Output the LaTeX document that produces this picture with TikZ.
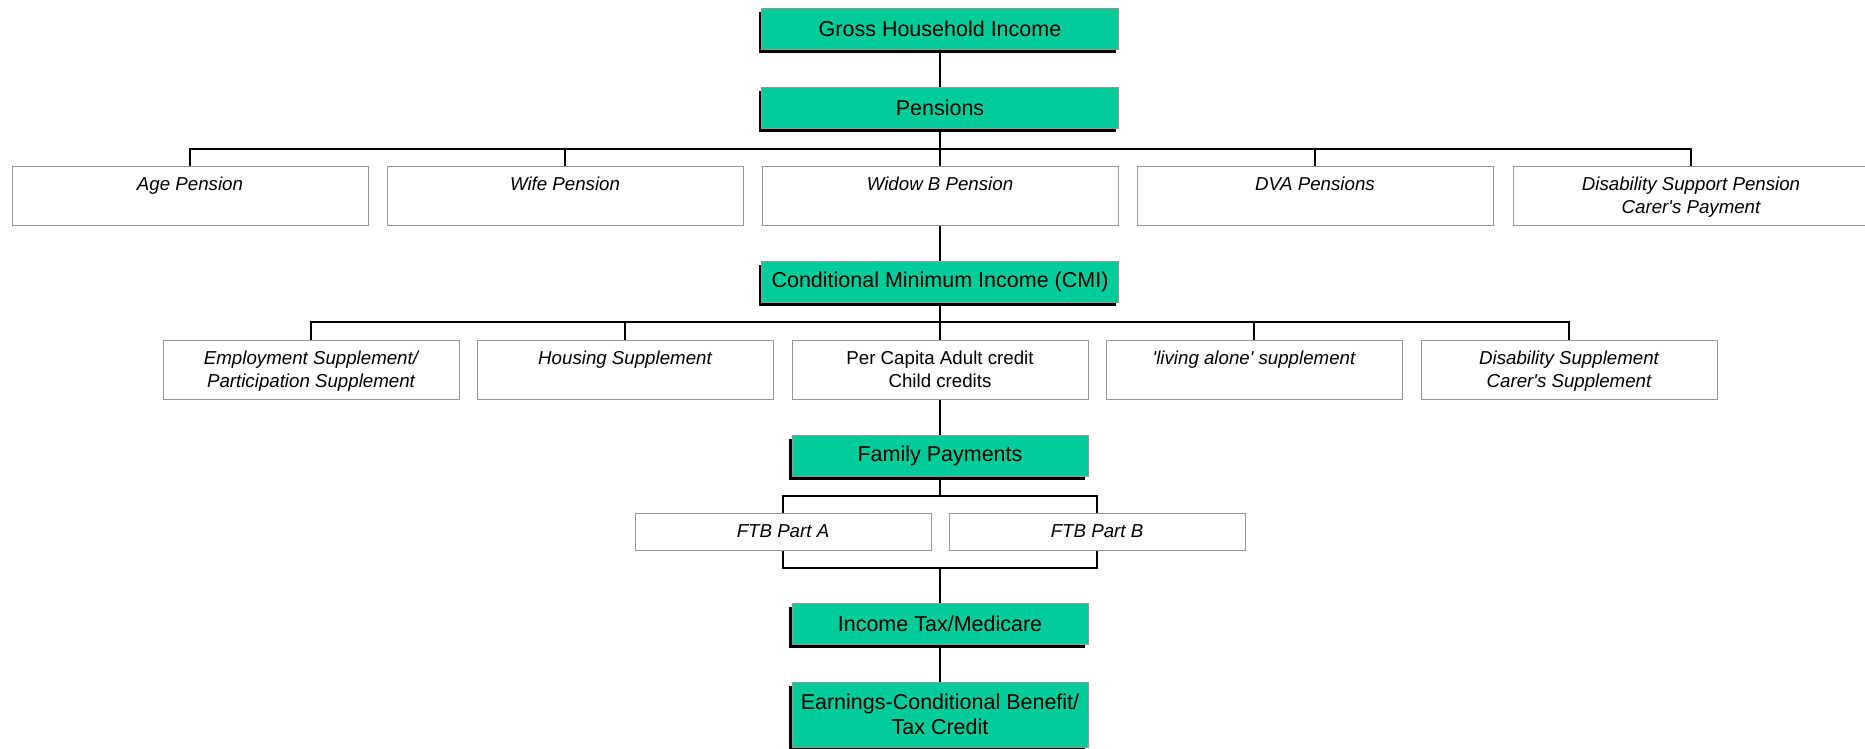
\documentclass[tikz,border=0pt]{standalone}
\usepackage{fontspec}
\setmainfont{Liberation Sans}
\usepackage{xcolor}
\usetikzlibrary{positioning, shadows}
\definecolor{stepgreen}{RGB}{0,204,153}
\definecolor{boxgray}{RGB}{150,150,150}
\newcommand{\sq}{\textquotesingle}

\begin{document}
\begin{tikzpicture}[
    x=1pt, y=-1pt,
    font=\fontsize{18.7}{22.5}\selectfont,
    stage/.style={draw=boxgray, line width=1pt, fill=stepgreen, rectangle, minimum width=296pt, minimum height=41pt, inner sep=0pt, align=center, font=\fontsize{21.5}{25}\selectfont, drop shadow={shadow xshift=-3pt, shadow yshift=-3.5pt, fill=black, opacity=1}},
    wstage/.style={stage, minimum width=357pt},
    item/.style={draw=boxgray, line width=1pt, fill=white, rectangle, minimum width=356pt, minimum height=59pt, inner sep=0pt, align=center, font=\fontsize{18.7}{23}\selectfont\itshape, text depth=0pt},
    sitem/.style={item, minimum width=296pt},
    ftb/.style={item, minimum width=296pt, minimum height=37pt},
    link/.style={line width=1.1pt, black}
]
\clip (0,0) rectangle (1865,748);
\fill[white] (0,0) rectangle (1865,748);

\node[wstage] (gross) at (940,28.5) {Gross Household Income};
\node[wstage] (pens) at (940,108) {Pensions};
\draw[link] (gross.south) -- (pens.north);

\node[item] (age) at (190,195.5) {Age Pension\\\strut};
\node[item] (wife) at (565,195.5) {Wife Pension\\\strut};
\node[item] (widow) at (940,195.5) {Widow B Pension\\\strut};
\node[item] (dva) at (1315,195.5) {DVA Pensions\\\strut};
\node[item] (dsp) at (1691,195.5) {Disability Support Pension\\Carer\sq s Payment};
\coordinate (pbus) at (940,149);
\draw[link] (pens.south) -- (pbus);
\foreach \n in {age,wife,widow,dva,dsp}
    \draw[link] (\n.north) |- (pbus);

\node[wstage] (cmi) at (940,282) {Conditional Minimum Income (CMI)};
\draw[link] (widow.south) -- (cmi.north);

\node[sitem] (emp) at (311,369.5) {Employment Supplement/\\Participation Supplement};
\node[sitem] (house) at (625,369.5) {Housing Supplement\\\strut};
\node[sitem, font=\fontsize{18.7}{23}\selectfont\upshape] (credit) at (940,369.5) {Per Capita Adult credit\\Child credits};
\node[sitem] (alone) at (1254,369.5) {\sq living alone\sq{} supplement\\\strut};
\node[sitem] (dis) at (1569,369.5) {Disability Supplement\\Carer\sq s Supplement};
\coordinate (cbus) at (940,322);
\draw[link] (cmi.south) -- (cbus);
\foreach \n in {emp,house,credit,alone,dis}
    \draw[link] (\n.north) |- (cbus);

\node[stage] (family) at (940,455.5) {Family Payments};
\draw[link] (credit.south) -- (family.north);

\node[ftb] (ftba) at (783,531.5) {FTB Part A};
\node[ftb] (ftbb) at (1097,531.5) {FTB Part B};
\coordinate (fbus) at (940,496);
\coordinate (gbus) at (940,568);
\draw[link] (family.south) -- (fbus);
\draw[link] (ftba.north) |- (fbus);
\draw[link] (ftbb.north) |- (fbus);
\draw[link] (ftba.south) |- (gbus);
\draw[link] (ftbb.south) |- (gbus);

\node[stage] (tax) at (940,623.5) {Income Tax/Medicare};
\draw[link] (gbus) -- (tax.north);

\node[stage, minimum height=65pt] (earn) at (940,714.5) {Earnings-Conditional Benefit/\\Tax Credit};
\draw[link] (tax.south) -- (earn.north);

\end{tikzpicture}
\end{document}
